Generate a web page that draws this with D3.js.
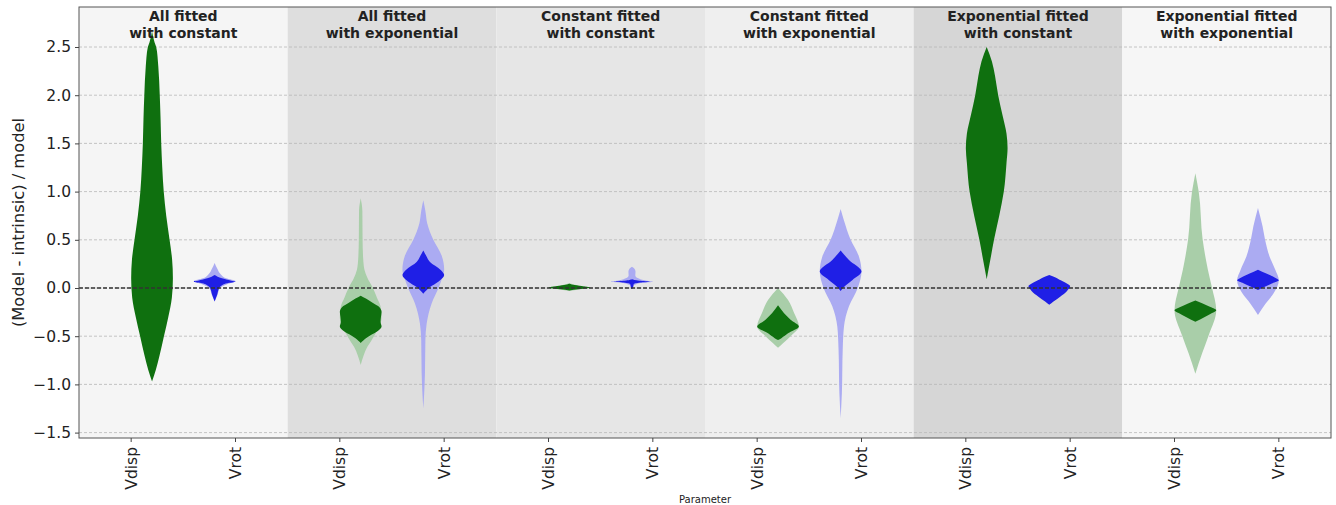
<!DOCTYPE html>
<html>
<head>
<meta charset="utf-8">
<script src="https://cdn.jsdelivr.net/npm/d3@7"></script>
<style>
  body { margin: 0; background: #fff; }
  text { font-family: "DejaVu Sans", sans-serif; fill: #222; }
</style>
</head>
<body>
<svg id="chart" width="1336" height="505"></svg>
<script>
// panel titles (two lines each) and per-panel background shades
const panelTitles = [
  ["All fitted", "with constant"],
  ["All fitted", "with exponential"],
  ["Constant fitted", "with constant"],
  ["Constant fitted", "with exponential"],
  ["Exponential fitted", "with constant"],
  ["Exponential fitted", "with exponential"]
];
const panelShades = ["#f5f5f5", "#dedede", "#e6e6e6", "#efefef", "#d6d6d6", "#f6f6f6"];
const parameters = ["Vdisp", "Vrot"];
const yTicks = [-1.5, -1.0, -0.5, 0.0, 0.5, 1.0, 1.5, 2.0, 2.5];

// violin profiles: [value, relative density]
// "light" = whole sample (faded), "dark" = subset drawn solid
const allConstVdispDark = [[2.66,0],[2.55,0.12],[2.5,0.2],[2.3,0.3],[2.0,0.37],[1.75,0.41],[1.5,0.44],[1.25,0.49],[1.0,0.56],[0.75,0.68],[0.5,0.84],[0.3,0.96],[0.1,1.0],[-0.1,0.95],[-0.3,0.78],[-0.5,0.57],[-0.7,0.36],[-0.85,0.18],[-0.97,0]];
const allConstVrotLight = [[0.26,0],[0.2,0.13],[0.14,0.3],[0.1,0.55],[0.07,1.0],[0.04,0.6],[0.0,0.25],[-0.07,0.14],[-0.14,0]];
const allConstVrotDark = [[0.135,0],[0.1,0.35],[0.075,0.8],[0.065,1.0],[0.05,0.6],[0.02,0.3],[0.0,0.22],[-0.07,0.12],[-0.14,0]];

const allExpVdispLight = [[0.93,0],[0.8,0.08],[0.5,0.09],[0.3,0.12],[0.19,0.18],[0.1,0.33],[0.01,0.56],[-0.1,0.78],[-0.19,0.95],[-0.3,1.0],[-0.4,0.9],[-0.47,0.72],[-0.55,0.5],[-0.61,0.32],[-0.7,0.14],[-0.8,0]];
const allExpVdispDark = [[-0.08,0],[-0.11,0.25],[-0.15,0.55],[-0.2,0.9],[-0.25,1.0],[-0.3,0.97],[-0.35,0.95],[-0.4,1.0],[-0.44,0.85],[-0.48,0.55],[-0.52,0.25],[-0.57,0]];
const allExpVrotLight = [[0.91,0],[0.8,0.1],[0.67,0.19],[0.5,0.48],[0.33,0.89],[0.19,1.0],[0.1,0.9],[0.01,0.75],[-0.16,0.4],[-0.37,0.16],[-0.54,0.1],[-0.88,0.08],[-1.06,0.05],[-1.25,0]];
const allExpVrotDark = [[0.39,0],[0.33,0.15],[0.27,0.32],[0.19,0.82],[0.135,1.0],[0.066,0.72],[0.01,0.32],[-0.06,0]];

const constConstVdispLight = [[0.05,0],[0.02,0.6],[0.005,1.0],[-0.01,0.6],[-0.03,0]];
const constConstVdispDark = [[0.045,0],[0.03,0.25],[0.015,0.7],[0.005,1.0],[-0.005,0.8],[-0.015,0.3],[-0.025,0]];
const constConstVrotLight = [[0.22,0],[0.2,0.12],[0.17,0.17],[0.13,0.16],[0.1,0.3],[0.075,0.7],[0.066,1.0],[0.055,0.5],[0.035,0.15],[0.02,0]];
const constConstVrotDark = [[0.09,0],[0.075,0.35],[0.066,0.85],[0.058,0.4],[0.04,0.08],[0.0,0.05],[-0.01,0]];

const constExpVdispLight = [[0.0,0],[-0.06,0.25],[-0.125,0.48],[-0.26,0.77],[-0.4,1.0],[-0.5,0.6],[-0.57,0.25],[-0.62,0]];
const constExpVdispDark = [[-0.18,0],[-0.26,0.28],[-0.33,0.6],[-0.4,1.0],[-0.47,0.48],[-0.52,0.16],[-0.54,0]];
const constExpVrotLight = [[0.82,0],[0.7,0.16],[0.5,0.48],[0.325,0.88],[0.17,1.0],[0.0,0.82],[-0.19,0.4],[-0.4,0.16],[-0.64,0.1],[-1.09,0.06],[-1.35,0]];
const constExpVrotDark = [[0.39,0],[0.29,0.4],[0.17,1.0],[0.083,0.57],[0.01,0.16],[-0.03,0]];

const expConstVdispDark = [[2.5,0],[2.35,0.25],[2.2,0.4],[2.0,0.55],[1.8,0.75],[1.6,0.95],[1.45,1.0],[1.3,0.95],[1.0,0.82],[0.75,0.6],[0.5,0.35],[0.3,0.18],[0.09,0]];
const expConstVrotDark = [[0.135,0],[0.11,0.3],[0.08,0.55],[0.05,0.82],[0.02,1.0],[-0.03,0.85],[-0.09,0.52],[-0.14,0.2],[-0.175,0]];

const expExpVdispLight = [[1.19,0],[1.0,0.16],[0.5,0.35],[0.19,0.6],[0.0,0.8],[-0.23,1.0],[-0.49,0.64],[-0.68,0.32],[-0.89,0]];
const expExpVdispDark = [[-0.13,0],[-0.16,0.35],[-0.2,0.75],[-0.23,1.0],[-0.26,0.8],[-0.3,0.45],[-0.35,0]];
const expExpVrotLight = [[0.83,0],[0.64,0.22],[0.5,0.34],[0.33,0.55],[0.19,0.83],[0.08,1.0],[-0.055,0.75],[-0.16,0.37],[-0.28,0]];
const expExpVrotDark = [[0.19,0],[0.15,0.4],[0.11,0.8],[0.08,1.0],[0.05,0.7],[0.01,0.3],[-0.02,0]];

// one entry per category slot (panel x parameter), in drawing order
const violins = [
  { light: null,                 dark: allConstVdispDark },
  { light: allConstVrotLight,    dark: allConstVrotDark },
  { light: allExpVdispLight,     dark: allExpVdispDark },
  { light: allExpVrotLight,      dark: allExpVrotDark },
  { light: constConstVdispLight, dark: constConstVdispDark },
  { light: constConstVrotLight,  dark: constConstVrotDark },
  { light: constExpVdispLight,   dark: constExpVdispDark },
  { light: constExpVrotLight,    dark: constExpVrotDark },
  { light: null,                 dark: expConstVdispDark },
  { light: null,                 dark: expConstVrotDark },
  { light: expExpVdispLight,     dark: expExpVdispDark },
  { light: expExpVrotLight,      dark: expExpVrotDark }
];

const colors = {
  Vdisp: { light: "#a9cea9", dark: "#0f700f" },
  Vrot:  { light: "#ababf2", dark: "#1f1fe6" }
};

// layout
const W = 1336, H = 505;
const margin = { top: 7, right: 5, bottom: 67, left: 79 };
const svg = d3.select("#chart");

const slots = d3.range(violins.length);
const x = d3.scaleBand().domain(slots).range([margin.left, W - margin.right]).padding(0);
const bw = x.bandwidth();
const y = d3.scaleLinear().domain([-1.556, 2.915]).range([H - margin.bottom, margin.top]);
const halfW = d3.scaleLinear().domain([0, 1]).range([0, bw * 0.2]);

const paramOf = i => parameters[i % 2];
// violins sit slightly inward from their tick
const violinCenter = i => x(i) + bw / 2 + (i % 2 === 0 ? 0.2 : -0.2) * bw;

// panel backgrounds
svg.append("g").selectAll("rect")
  .data(panelShades)
  .enter()
  .append("rect")
  .attr("x", (d, p) => x(p * 2))
  .attr("y", margin.top)
  .attr("width", bw * 2)
  .attr("height", y.range()[0] - margin.top)
  .attr("fill", d => d);

// grid
svg.append("g").selectAll("line")
  .data(yTicks)
  .enter()
  .append("line")
  .attr("x1", margin.left).attr("x2", W - margin.right)
  .attr("y1", d => y(d)).attr("y2", d => y(d))
  .attr("stroke", "#b8b8b8")
  .attr("stroke-width", 0.8)
  .attr("stroke-dasharray", "3,2");

// violins
const area = d3.area()
  .curve(d3.curveMonotoneY)
  .y(d => y(d[0]));

function drawViolin(g, prof, cx, fill) {
  g.append("path")
    .datum(prof)
    .attr("d", area.x0(d => cx - halfW(d[1])).x1(d => cx + halfW(d[1])))
    .attr("fill", fill);
}

const vg = svg.append("g");
violins.forEach((v, i) => {
  if (v.light) drawViolin(vg, v.light, violinCenter(i), colors[paramOf(i)].light);
});
violins.forEach((v, i) => {
  if (v.dark) drawViolin(vg, v.dark, violinCenter(i), colors[paramOf(i)].dark);
});

// zero reference line
svg.append("line")
  .attr("x1", margin.left).attr("x2", W - margin.right)
  .attr("y1", y(0)).attr("y2", y(0))
  .attr("stroke", "#333")
  .attr("stroke-width", 1.3)
  .attr("stroke-dasharray", "4,2");

// frame
svg.append("rect")
  .attr("x", margin.left).attr("y", margin.top)
  .attr("width", W - margin.right - margin.left)
  .attr("height", y.range()[0] - margin.top)
  .attr("fill", "none")
  .attr("stroke", "#555")
  .attr("stroke-width", 1);

// y axis
const yAxis = svg.append("g")
  .attr("transform", `translate(${margin.left},0)`)
  .call(d3.axisLeft(y).tickValues(yTicks).tickFormat(d3.format(".1f")).tickSize(4).tickPadding(4));
yAxis.select(".domain").remove();
yAxis.selectAll("line").attr("stroke", "#444");
yAxis.selectAll("text").style("font-size", "15.5px").attr("fill", "#222");

// x axis
const xAxis = svg.append("g")
  .attr("transform", `translate(0,${y.range()[0]})`)
  .call(d3.axisBottom(x).tickFormat(i => paramOf(i)).tickSize(4).tickPadding(6));
xAxis.select(".domain").remove();
xAxis.selectAll("line").attr("stroke", "#444");
xAxis.selectAll("text")
  .style("font-size", "15.5px")
  .attr("fill", "#222")
  .attr("text-anchor", "end")
  .attr("dy", "0.35em")
  .attr("transform", "rotate(-90)")
  .attr("x", -9)
  .attr("y", 0);

// panel titles
const tg = svg.append("g");
panelTitles.forEach((lines, p) => {
  const t = tg.append("text")
    .attr("x", x(p * 2) + bw)
    .attr("y", 21)
    .attr("text-anchor", "middle")
    .style("font-size", "14px")
    .style("font-weight", "bold")
    .attr("fill", "#111");
  lines.forEach((ln, k) => {
    t.append("tspan")
      .attr("x", x(p * 2) + bw)
      .attr("dy", k === 0 ? 0 : 16.5)
      .text(ln);
  });
});

// axis labels
svg.append("text")
  .attr("transform", `translate(18,${(margin.top + y.range()[0]) / 2}) rotate(-90)`)
  .attr("text-anchor", "middle")
  .attr("dy", "0.35em")
  .style("font-size", "16.3px")
  .text("(Model - intrinsic) / model");

svg.append("text")
  .attr("x", (margin.left + W - margin.right) / 2)
  .attr("y", 503)
  .attr("text-anchor", "middle")
  .style("font-size", "10px")
  .text("Parameter");
</script>
</body>
</html>
